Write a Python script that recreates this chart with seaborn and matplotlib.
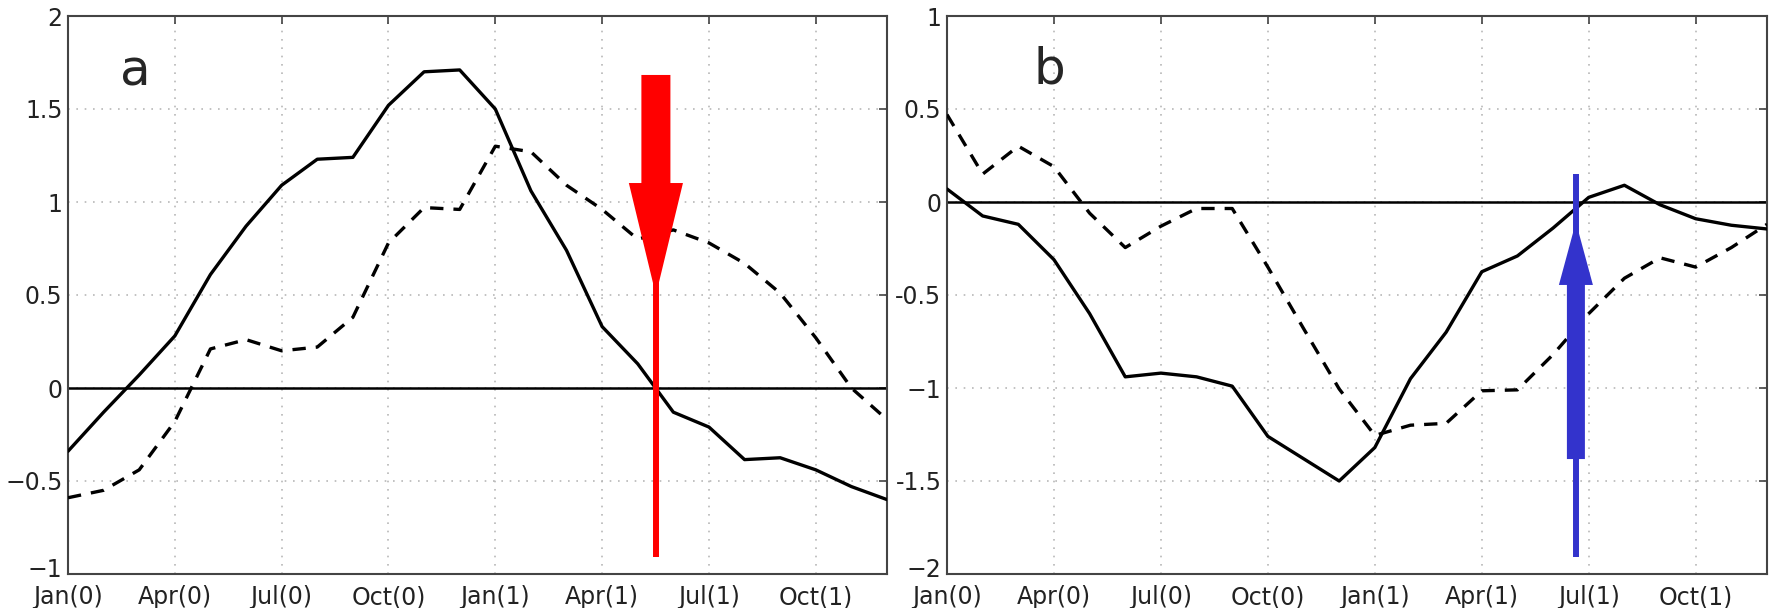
import numpy as np
import matplotlib
matplotlib.use("Agg")
import matplotlib.pyplot as plt
import matplotlib.transforms as mtransforms
import seaborn as sns
from matplotlib.patches import FancyArrow

# ----------------------------
# data (monthly, Jan(0) .. Dec(1))
# ----------------------------
months = np.arange(24)
tick_pos = [0, 3, 6, 9, 12, 15, 18, 21]
tick_labels = ["Jan(0)", "Apr(0)", "Jul(0)", "Oct(0)", "Jan(1)", "Apr(1)", "Jul(1)", "Oct(1)"]

a_solid = [-0.34, -0.13, 0.07, 0.28, 0.61, 0.87, 1.09, 1.23, 1.24, 1.52, 1.70, 1.71,
           1.50, 1.06, 0.74, 0.33, 0.13, -0.13, -0.21, -0.385, -0.375, -0.44, -0.53, -0.60]
a_dashed = [-0.59, -0.55, -0.44, -0.18, 0.21, 0.26, 0.20, 0.22, 0.38, 0.78, 0.97, 0.96,
            1.30, 1.27, 1.09, 0.96, 0.80, 0.85, 0.78, 0.67, 0.51, 0.27, 0.0, -0.17]

b_solid = [0.07, -0.075, -0.12, -0.31, -0.60, -0.94, -0.92, -0.94, -0.99, -1.26, -1.38, -1.50,
           -1.32, -0.95, -0.70, -0.375, -0.29, -0.14, 0.025, 0.09, -0.015, -0.09, -0.125, -0.145]
b_dashed = [0.47, 0.15, 0.30, 0.19, -0.06, -0.245, -0.13, -0.035, -0.035, -0.35, -0.68, -1.005,
            -1.255, -1.20, -1.19, -1.015, -1.01, -0.82, -0.60, -0.41, -0.30, -0.35, -0.245, -0.12]

a_yticks = [-1, -0.5, 0, 0.5, 1, 1.5, 2]
a_yticklabels = ["\u22121", "\u22120.5", "0", "0.5", "1", "1.5", "2"]
b_yticks = [-2, -1.5, -1, -0.5, 0, 0.5, 1]
b_yticklabels = ["\u22122", "-1.5", "\u22121", "-0.5", "0", "0.5", "1"]

# arrows: x position, thin line extent, thick arrow start/tip, head base
red_x, red_line = 16.51, (-0.91, 1.683)
red_start, red_tip, red_head_base = 1.683, 0.5, 1.102
blue_x, blue_line = 17.64, (-1.91, 0.151)
blue_start, blue_tip, blue_head_base = -1.382, -0.108, -0.446

# ----------------------------
# figure
# ----------------------------
sns.set_style("white")
plt.rcParams["font.family"] = ["DejaVu Sans"]

fig = plt.figure(figsize=(17.71, 6.08), dpi=100)
ax_a = fig.add_axes([68 / 1771, 34 / 608, 819 / 1771, 558 / 608])
ax_b = fig.add_axes([947 / 1771, 34 / 608, 820 / 1771, 558 / 608])


def style_axis(ax, ylim, yticks, ylabels):
    ax.set_xlim(0, 23)
    ax.set_ylim(*ylim)
    ax.set_xticks(tick_pos)
    ax.set_xticklabels(tick_labels)
    ax.set_yticks(yticks)
    ax.set_yticklabels(ylabels)
    ax.grid(True, linestyle=(0, (1, 4)), color="#b8b8b8", linewidth=1.2)
    ax.tick_params(direction="in", top=True, right=True, length=6, width=1.2,
                   color="#444444", labelsize=17, labelcolor="#222222")
    ax.tick_params(axis="x", pad=8)
    ax.tick_params(axis="y", pad=4)
    for s in ax.spines.values():
        s.set_color("#444444")
        s.set_linewidth(1.5)
    ax.axhline(0, color="black", lw=1.8, zorder=2)
    ax.set_xlabel("")
    ax.set_ylabel("")
    # lowest y label sits just above the x labels, as in MATLAB output
    low = ax.get_yticklabels()[0]
    low.set_transform(low.get_transform() +
                      mtransforms.ScaledTranslation(0, 5 / 72, fig.dpi_scale_trans))


def draw_arrow(ax, x, line, start, tip, head_base, shaft_w, head_w, color):
    ax.plot([x, x], list(line), color=color, lw=4.3, solid_capstyle="butt", zorder=5)
    ax.add_patch(FancyArrow(x, start, 0, tip - start, width=shaft_w, head_width=head_w,
                            head_length=abs(head_base - tip), length_includes_head=True,
                            color=color, lw=0, zorder=6))


# panel a
sns.lineplot(x=months, y=a_solid, ax=ax_a, color="black", lw=2.4, zorder=3)
sns.lineplot(x=months, y=a_dashed, ax=ax_a, color="black", lw=2.4, zorder=3,
             linestyle=(0, (4, 3)))
style_axis(ax_a, (-1, 2), a_yticks, a_yticklabels)
draw_arrow(ax_a, red_x, red_line, red_start, red_tip, red_head_base, 0.815, 1.52, "#ff0000")
ax_a.text(1.88, 1.70, "a", fontsize=36, ha="center", va="center")

# panel b
sns.lineplot(x=months, y=b_solid, ax=ax_b, color="black", lw=2.4, zorder=3)
sns.lineplot(x=months, y=b_dashed, ax=ax_b, color="black", lw=2.4, zorder=3,
             linestyle=(0, (4, 3)))
style_axis(ax_b, (-2, 1), b_yticks, b_yticklabels)
draw_arrow(ax_b, blue_x, blue_line, blue_start, blue_tip, blue_head_base, 0.505, 0.954, "#3333cc")
ax_b.text(2.86, 0.71, "b", fontsize=36, ha="center", va="center")

fig.savefig("out.png", dpi=100)
